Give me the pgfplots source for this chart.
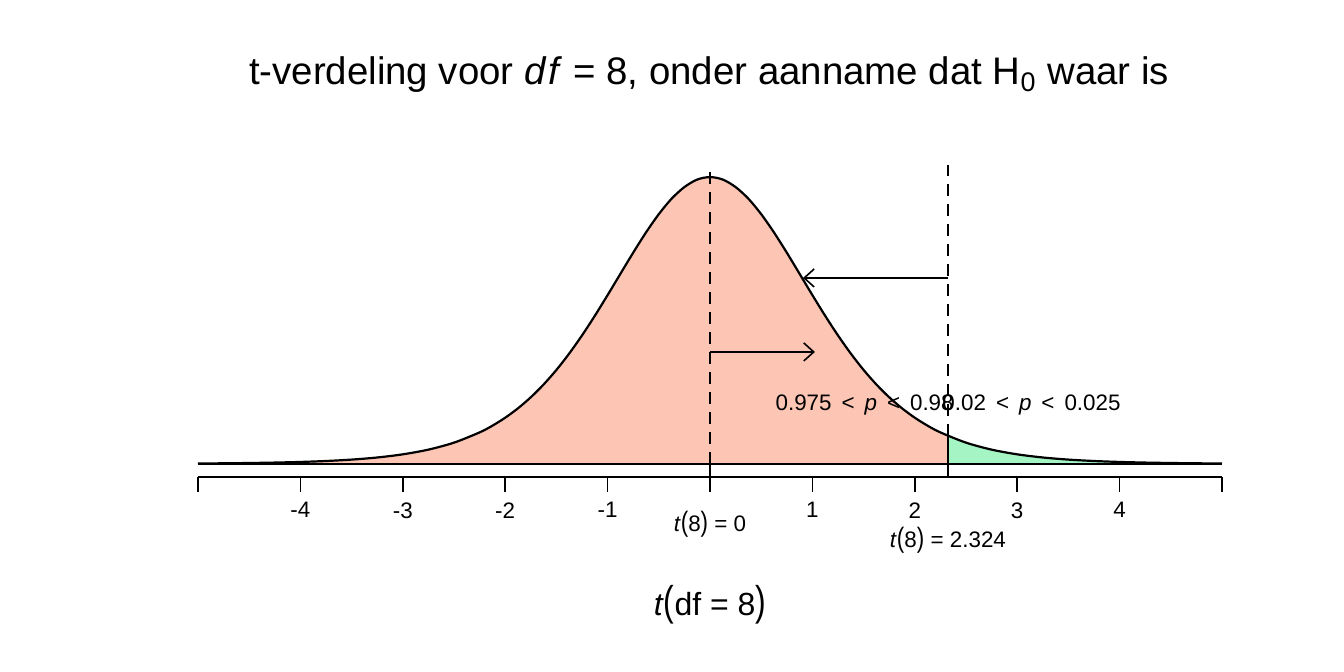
\documentclass[border=0pt]{standalone}
\usepackage{fontspec}
\setmainfont{Liberation Sans}
\usepackage{graphicx}
\usepackage{pgfplots}
\usepackage{pgfplotstable}
\pgfplotsset{compat=1.18}
\usetikzlibrary{arrows.meta}
\definecolor{salm}{RGB}{252,197,180}
\definecolor{grn}{RGB}{164,244,196}

\pgfplotstableread{
x y
-5 0.000657
-4.75 0.000928
-4.5 0.001324
-4.25 0.001901
-4 0.002756
-3.75 0.00402
-3.5 0.00592
-3.25 0.00876
-3 0.01301
-2.75 0.01935
-2.5 0.02877
-2.25 0.04257
-2.125 0.05161
-2 0.06237
-1.875 0.07507
-1.75 0.08994
-1.625 0.10713
-1.5 0.12676
-1.375 0.14885
-1.25 0.17326
-1.125 0.19967
-1 0.22761
-0.875 0.25630
-0.75 0.28481
-0.625 0.31203
-0.5 0.33669
-0.375 0.35753
-0.25 0.37322
-0.125 0.38331
0 0.38669
0.125 0.38331
0.25 0.37322
0.375 0.35753
0.5 0.33669
0.625 0.31203
0.75 0.28481
0.875 0.25630
1 0.22761
1.125 0.19967
1.25 0.17326
1.375 0.14885
1.5 0.12676
1.625 0.10713
1.75 0.08994
1.875 0.07507
2 0.06237
2.125 0.05161
2.25 0.04257
2.324 0.03794
}\lefttab

\pgfplotstableread{
x y
2.324 0.03794
2.5 0.02877
2.75 0.01935
3 0.01301
3.25 0.00876
3.5 0.00592
3.75 0.00402
4 0.002756
4.25 0.001901
4.5 0.001324
4.75 0.000928
5 0.000657
}\righttab

\pgfplotstableread{
x y
-5 0.000657
-4.75 0.000928
-4.5 0.001324
-4.25 0.001901
-4 0.002756
-3.75 0.00402
-3.5 0.00592
-3.25 0.00876
-3 0.01301
-2.75 0.01935
-2.5 0.02877
-2.25 0.04257
-2.125 0.05161
-2 0.06237
-1.875 0.07507
-1.75 0.08994
-1.625 0.10713
-1.5 0.12676
-1.375 0.14885
-1.25 0.17326
-1.125 0.19967
-1 0.22761
-0.875 0.25630
-0.75 0.28481
-0.625 0.31203
-0.5 0.33669
-0.375 0.35753
-0.25 0.37322
-0.125 0.38331
0 0.38669
0.125 0.38331
0.25 0.37322
0.375 0.35753
0.5 0.33669
0.625 0.31203
0.75 0.28481
0.875 0.25630
1 0.22761
1.125 0.19967
1.25 0.17326
1.375 0.14885
1.5 0.12676
1.625 0.10713
1.75 0.08994
1.875 0.07507
2 0.06237
2.125 0.05161
2.25 0.04257
2.5 0.02877
2.75 0.01935
3 0.01301
3.25 0.00876
3.5 0.00592
3.75 0.00402
4 0.002756
4.25 0.001901
4.5 0.001324
4.75 0.000928
5 0.000657
}\fulltab

\begin{document}
\begin{tikzpicture}
\useasboundingbox (-99pt,-97.5pt) rectangle (573pt,238.5pt);
\begin{axis}[
  at={(0,0)}, anchor=south west,
  scale only axis, width=512pt, height=162.32pt,
  xmin=-5, xmax=5, ymin=-0.01752, ymax=0.42,
  axis x line*=bottom, axis y line=none,
  xtick={-5,-4,-3,-2,-1,0,1,2,3,4,5},
  xticklabels={,-4,-3,-2,-1,,1,2,3,4,},
  xtick align=outside, major tick length=7.5pt,
  x axis line style={line width=0.8pt},
  every tick/.style={black, line width=0.8pt},
  xticklabel style={font=\fontsize{11.2}{13}\selectfont, yshift=-1.7pt},
  clip=false,
]
\addplot[draw=none, fill=salm, smooth] table {\lefttab} \closedcycle;
\addplot[draw=none, fill=grn, smooth] table {\righttab} \closedcycle;
\addplot[black, line width=0.9pt] coordinates {(-5,0) (5,0)};
\addplot[black, line width=1.1pt, smooth] table {\fulltab};
\addplot[black, line width=0.8pt] coordinates {(2.324,-0.01752) (2.324,0.03794)};
\addplot[black, line width=0.8pt] coordinates {(0,-0.01752) (0,0)};
\addplot[black, line width=0.8pt, dash pattern=on 6pt off 4pt] coordinates {(0,0) (0,0.403)};
\addplot[black, line width=0.8pt, dash pattern=on 6pt off 4pt] coordinates {(2.324,0.03794) (2.324,0.403)};
\addplot[black, line width=0.8pt, -{Straight Barb[length=5pt,width=9pt]}] coordinates {(2.324,0.2507) (0.908,0.2507)};
\addplot[black, line width=0.8pt, -{Straight Barb[length=5pt,width=9pt]}] coordinates {(0,0.151) (1.025,0.151)};
\node[font=\fontsize{19.2}{22}\selectfont] at (axis cs:-0.01,0.5243) {t-verdeling voor \textit{d\kern0.08em f} = 8, onder aanname dat H\textsubscript{0} waar is};
\node[font=\fontsize{11.2}{13}\selectfont] at (axis cs:1.51,0.0795) {0.975 \,<\, \textit{p} \,<\, 0.98};
\node[font=\fontsize{11.2}{13}\selectfont] at (axis cs:3.14,0.0795) {0.02 \,<\, \textit{p} \,<\, 0.025};
\node[font=\fontsize{11.2}{13}\selectfont] at (axis cs:0,-0.0809) {\textit{t}\scalebox{1}[1.25]{(}8\scalebox{1}[1.25]{)} = 0};
\node[font=\fontsize{11.2}{13}\selectfont] at (axis cs:2.324,-0.1024) {\textit{t}\scalebox{1}[1.25]{(}8\scalebox{1}[1.25]{)} = 2.324};
\node[font=\fontsize{16}{19}\selectfont] at (axis cs:0,-0.19) {\textit{t}\scalebox{1}[1.3]{(}df = 8\scalebox{1}[1.3]{)}};
\end{axis}
\end{tikzpicture}
\end{document}
